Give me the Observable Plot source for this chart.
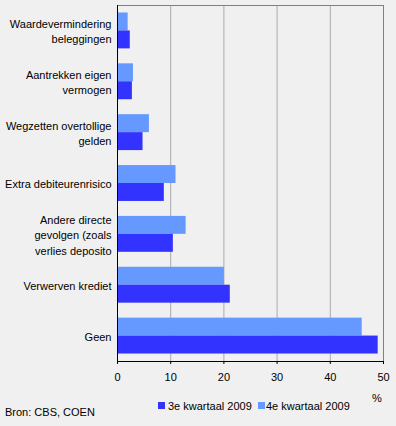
<!DOCTYPE html>
<html>
<head>
<meta charset="utf-8">
<script src="https://cdn.jsdelivr.net/npm/d3@7"></script>
<script src="https://cdn.jsdelivr.net/npm/@observablehq/plot@0.6"></script>
<style>
  html, body { margin: 0; padding: 0; background: #f0f0f0; }
  body { font-family: Arial, "Liberation Sans", sans-serif; font-size: 11px; color: #000; }
  #wrap { position: relative; width: 396px; height: 426px; overflow: hidden; }
  #chart svg { display: block; }
  .leg { position: absolute; top: 400px; line-height: 13px; white-space: nowrap; }
  .sw { position: absolute; width: 7px; height: 7px; top: 402px; }
  #src { position: absolute; left: 5px; top: 406px; line-height: 13px; white-space: nowrap; }
</style>
</head>
<body>
<div id="wrap">
  <div id="chart"></div>
  <div class="sw" style="left:158px;background:#3333ff"></div>
  <div class="leg" id="l3" style="left:168px"></div>
  <div class="sw" style="left:258px;background:#6699ff"></div>
  <div class="leg" id="l4" style="left:266px"></div>
  <div id="src"></div>
</div>
<script>
const categories = [
  "Waardevermindering beleggingen",
  "Aantrekken eigen vermogen",
  "Wegzetten overtollige gelden",
  "Extra debiteurenrisico",
  "Andere directe gevolgen (zoals verlies deposito",
  "Verwerven krediet",
  "Geen"
];
const categoryLabels = [
  "Waardevermindering\nbeleggingen",
  "Aantrekken eigen\nvermogen",
  "Wegzetten overtollige\ngelden",
  "Extra debiteurenrisico",
  "Andere directe\ngevolgen (zoals\nverlies deposito",
  "Verwerven krediet",
  "Geen"
];
const seriesNames = ["3e kwartaal 2009", "4e kwartaal 2009"];
const q3 = [2.4, 2.8, 4.8, 8.8, 10.5, 21.2, 49.0];
const q4 = [2.0, 3.0, 6.0, 11.0, 12.9, 20.1, 46.0];
const xTicks = [0, 10, 20, 30, 40, 50];
const unitLabel = "%";
const sourceText = "Bron: CBS, COEN";

const W = 396, H = 404;
const mT = 5, mB = 43, mL = 117, mR = 13;
const padIn = 0.294, padOut = 0.147;
const n = categories.length;
const step = (H - mT - mB) / (n - padIn + 2 * padOut);
const bw = step * (1 - padIn);
const half = bw / 2;

const dark = "#3333ff", light = "#6699ff";

const rows3 = categories.map((c, i) => ({cat: c, v: q3[i]}));
const rows4 = categories.map((c, i) => ({cat: c, v: q4[i]}));
const labelOf = new Map(categories.map((c, i) => [c, categoryLabels[i]]));

const chart = Plot.plot({
  width: W, height: H,
  marginTop: mT, marginBottom: mB, marginLeft: mL, marginRight: mR,
  style: {background: "#f0f0f0", fontFamily: "Arial, 'Liberation Sans', sans-serif", fontSize: "11px", color: "#000"},
  x: {domain: [0, 50]},
  y: {domain: categories, paddingInner: padIn, paddingOuter: padOut, round: false},
  marks: [
    Plot.ruleX(xTicks.filter(d => d > 0 && d < 50), {stroke: "#aaaaaa"}),
    Plot.frame({stroke: "#808080"}),
    Plot.barX(rows4, {x: "v", y: "cat", fill: light, insetBottom: half}),
    Plot.barX(rows3, {x: "v", y: "cat", fill: dark, insetTop: half}),
    Plot.ruleX([0], {stroke: "#000"}),
    Plot.frame({anchor: "bottom", stroke: "#000"}),
    Plot.axisX({ticks: xTicks, tickSize: 3, tickPadding: 9, label: null, stroke: "#000", fill: "#000"}),
    Plot.axisY({tickSize: 0, tickPadding: 6, label: null, lineHeight: 1.39, tickFormat: d => labelOf.get(d), fill: "#000"}),
    Plot.text([unitLabel], {frameAnchor: "bottom-right", textAnchor: "middle", lineAnchor: "middle", dx: -6.5, dy: 37, fill: "#000"})
  ]
});
document.getElementById("chart").appendChild(chart);
document.getElementById("l3").textContent = seriesNames[0];
document.getElementById("l4").textContent = seriesNames[1];
document.getElementById("src").textContent = sourceText;
</script>
</body>
</html>
